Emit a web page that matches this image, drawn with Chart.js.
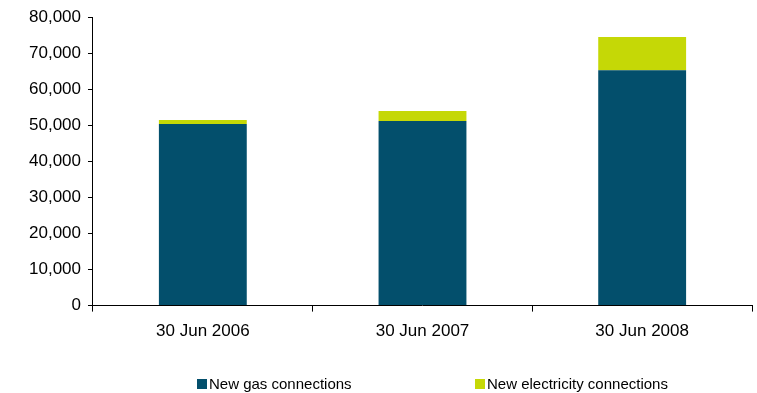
<!DOCTYPE html>
<html>
<head>
<meta charset="utf-8">
<script src="https://cdn.jsdelivr.net/npm/chart.js@4.4.1/dist/chart.umd.min.js"></script>
<style>
  html, body { margin: 0; padding: 0; background: #fff; }
  .wrap { position: relative; width: 757px; height: 393px; }
  #legend { position: absolute; left: 0; top: 375px; width: 757px; height: 18px;
    font-family: "Liberation Sans", Arial, sans-serif; font-size: 15px; color: #000; }
  #legend .item { position: absolute; top: 0; display: flex; align-items: center; white-space: nowrap; }
  #legend .box { width: 10px; height: 10px; margin-right: 2px; }
</style>
</head>
<body>
<div class="wrap">
  <canvas id="connChart"></canvas>
  <div id="legend"></div>
</div>
<script>
const periods = ['30 Jun 2006', '30 Jun 2007', '30 Jun 2008'];
const gasConnections = [50400, 51200, 65300];
const elecConnections = [1100, 2800, 9200];
const legendLeft = [197, 475];

const c1 = document.getElementById('connChart');
c1.width = 757;
c1.height = 393;

// legend drawn as html so the two items can sit far apart
const htmlLegend = {
  id: 'htmlLegend',
  afterUpdate(chart) {
    const box = document.getElementById('legend');
    box.innerHTML = '';
    const items = chart.options.plugins.legend.labels.generateLabels(chart);
    items.forEach((item, i) => {
      const el = document.createElement('div');
      el.className = 'item';
      el.style.left = legendLeft[i] + 'px';
      const sw = document.createElement('span');
      sw.className = 'box';
      sw.style.background = item.fillStyle;
      el.appendChild(sw);
      el.appendChild(document.createTextNode(item.text));
      box.appendChild(el);
    });
  }
};

new Chart(c1, {
  type: 'bar',
  data: {
    labels: periods,
    datasets: [{
      label: 'New gas connections',
      data: gasConnections,
      backgroundColor: '#034f6c',
      barPercentage: 0.4,
      categoryPercentage: 1
    }, {
      label: 'New electricity connections',
      data: elecConnections,
      backgroundColor: '#c5d806',
      barPercentage: 0.4,
      categoryPercentage: 1
    }]
  },
  plugins: [htmlLegend],
  options: {
    responsive: false,
    animation: false,
    layout: { padding: { top: 4, right: 5, left: 22, bottom: 41 } },
    plugins: {
      legend: { display: false },
      tooltip: { enabled: false }
    },
    scales: {
      x: {
        stacked: true,
        border: { color: '#000', width: 1 },
        grid: { drawOnChartArea: false, drawTicks: true, tickLength: 6, color: '#000' },
        ticks: { color: '#000', padding: 10, font: { family: 'Liberation Sans', size: 17 } }
      },
      y: {
        stacked: true,
        min: 0,
        max: 80000,
        border: { color: '#000', width: 1 },
        grid: { drawOnChartArea: false, drawTicks: true, tickLength: 5, color: '#000' },
        ticks: {
          stepSize: 10000,
          color: '#000',
          padding: 7,
          font: { family: 'Liberation Sans', size: 17 },
          callback: v => v.toLocaleString('en-US')
        }
      }
    }
  }
});
</script>
</body>
</html>
